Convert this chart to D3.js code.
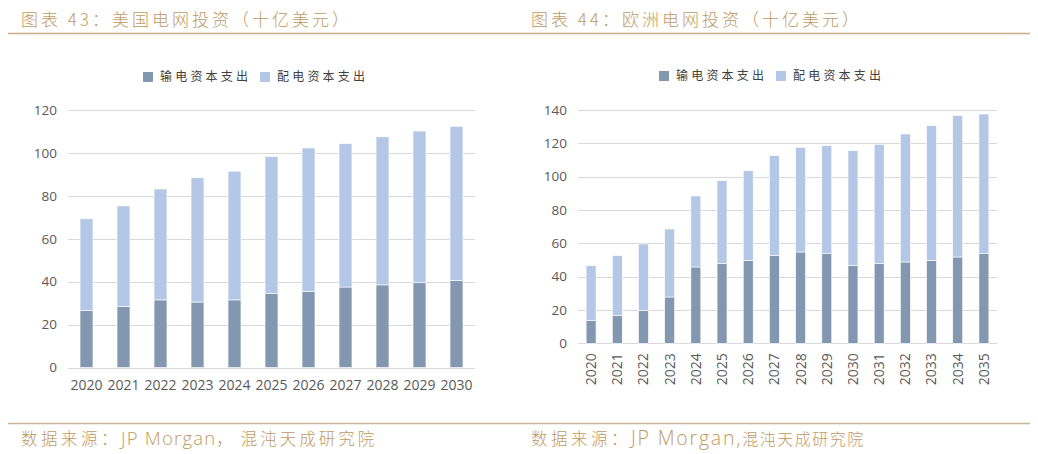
<!DOCTYPE html>
<html>
<head>
<meta charset="utf-8">
<script src="https://cdn.jsdelivr.net/npm/d3@7"></script>
<style>
  html, body { margin: 0; padding: 0; background: #fff; }
  svg { display: block; }
  .title, .source { fill: #C09A63; font-family: "Noto Sans CJK SC", sans-serif; font-weight: 300; }
  .source .latin { font-family: "Open Sans", "Noto Sans", sans-serif; }
  .tick text { fill: #595959; font-family: "Open Sans", "Noto Sans", sans-serif; }
  .legend text { fill: #404040; font-family: "Noto Sans CJK SC", sans-serif; }
</style>
</head>
<body>
<script>
'use strict';

// US grid investment (bn USD)
var usYears = ['2020', '2021', '2022', '2023', '2024', '2025', '2026', '2027', '2028', '2029', '2030'];
var usTrans = [26.5, 28.5, 31.5, 30.5, 31.5, 34.5, 35.5, 37.5, 38.5, 39.5, 40.5];
var usDist = [42.8, 46.8, 51.7, 57.9, 60.0, 63.8, 66.8, 66.8, 69.0, 70.7, 71.9];
var usTicks = [0, 20, 40, 60, 80, 100, 120];

// EU grid investment (bn USD)
var euYears = ['2020', '2021', '2022', '2023', '2024', '2025', '2026', '2027', '2028', '2029', '2030',
    '2031', '2032', '2033', '2034', '2035'];
var euTrans = [13.8, 16.8, 19.8, 27.8, 45.8, 47.8, 49.8, 52.8, 54.8, 53.8, 46.8, 47.8, 48.8, 49.8, 51.8, 53.8];
var euDist = [32.8, 35.8, 39.8, 40.8, 42.6, 49.8, 53.8, 59.8, 62.8, 64.8, 68.8, 71.6, 76.8, 80.8, 84.8, 83.8];
var euTicks = [0, 20, 40, 60, 80, 100, 120, 140];

var seriesNames = ['输电资本支出', '配电资本支出'];
var colors = ['#8497B0', '#B4C7E7'];

var W = 1038, H = 454;
var svg = d3.select('body').append('svg').attr('width', W).attr('height', H);

// header and footer rules
svg.append('line').attr('x1', 8).attr('x2', 1030).attr('y1', 33.5).attr('y2', 33.5)
    .attr('stroke', '#C9AD83').attr('stroke-width', 1.3);
svg.append('line').attr('x1', 8).attr('x2', 1030).attr('y1', 423.5).attr('y2', 423.5)
    .attr('stroke', '#C9B597').attr('stroke-width', 1.3);

svg.append('text').attr('class', 'title').attr('x', 21).attr('y', 26)
    .attr('font-size', 17).attr('letter-spacing', 3).text('图表 43：美国电网投资（十亿美元）');
svg.append('text').attr('class', 'title').attr('x', 531).attr('y', 26)
    .attr('font-size', 17).attr('letter-spacing', 3).text('图表 44：欧洲电网投资（十亿美元）');

// source lines, split so each piece can carry its own spacing
function drawSource(x, parts) {
    var t = svg.append('text').attr('class', 'source').attr('x', x).attr('y', 445);
    parts.forEach(function(p) {
        t.append('tspan')
            .attr('class', p.latin ? 'latin' : null)
            .attr('font-size', p.fs)
            .attr('letter-spacing', p.ls)
            .text(p.text);
    });
}

drawSource(21, [
    { text: '数据来源：', fs: 16.5, ls: 3.5 },
    { text: 'JP Morgan', fs: 18.5, ls: 1.2, latin: true },
    { text: '，', fs: 16.5, ls: 8 },
    { text: '混沌天成研究院', fs: 16.5, ls: 3 }
]);
drawSource(531, [
    { text: '数据来源：', fs: 16.5, ls: 3.5 },
    { text: 'JP Morgan,', fs: 19.5, ls: 1.8, latin: true },
    { text: '混沌天成研究院', fs: 16, ls: 1.5 }
]);

function drawChart(opts) {
    var g = svg.append('g');

    var x = d3.scaleBand()
        .domain(opts.years)
        .range([opts.x0, opts.x1])
        .paddingInner(opts.pad)
        .paddingOuter(opts.pad / 2);

    var y = d3.scaleLinear()
        .domain([0, opts.ticks[opts.ticks.length - 1]])
        .range([opts.y0, opts.y1]);

    // gridlines
    g.append('g')
        .selectAll('line')
        .data(opts.ticks)
        .enter().append('line')
        .attr('x1', opts.x0)
        .attr('x2', opts.x1)
        .attr('y1', function(d) { return Math.round(y(d)) + 0.5; })
        .attr('y2', function(d) { return Math.round(y(d)) + 0.5; })
        .attr('stroke', '#D9D9D9')
        .attr('stroke-width', 1.2);

    // stacked bars
    var rows = opts.years.map(function(yr, i) {
        return { year: yr, trans: opts.trans[i], dist: opts.dist[i] };
    });
    var stacked = d3.stack().keys(['trans', 'dist'])(rows);

    g.append('g')
        .selectAll('g')
        .data(stacked)
        .enter().append('g')
        .attr('fill', function(d, i) { return colors[i]; })
        .selectAll('rect')
        .data(function(d) { return d; })
        .enter().append('rect')
        .attr('x', function(d) { return x(d.data.year); })
        .attr('width', x.bandwidth())
        .attr('y', function(d) { return y(d[1]); })
        .attr('height', function(d) { return y(d[0]) - y(d[1]); })
        .attr('stroke', '#fff')
        .attr('stroke-width', 0.6);

    // y axis labels
    var yAxis = g.append('g')
        .attr('transform', 'translate(' + opts.x0 + ',0)')
        .call(d3.axisLeft(y).tickValues(opts.ticks).tickSize(0).tickPadding(opts.yPad));
    yAxis.select('.domain').remove();
    yAxis.selectAll('text').attr('font-size', opts.yfs);

    // x axis labels
    var xAxis = g.append('g')
        .attr('transform', 'translate(0,' + opts.y0 + ')')
        .call(d3.axisBottom(x).tickSize(0).tickPadding(opts.xPad));
    xAxis.select('.domain').remove();
    xAxis.selectAll('text').attr('font-size', opts.xfs);
    if(opts.rotate) {
        xAxis.selectAll('text')
            .attr('transform', 'rotate(-90)')
            .attr('text-anchor', 'end')
            .attr('dy', '0.35em')
            .attr('x', -opts.xPad)
            .attr('y', 0);
    }

    // legend
    var lg = g.append('g').attr('class', 'legend')
        .attr('transform', 'translate(' + opts.legendX + ',' + opts.legendY + ')');
    var item = lg.selectAll('g')
        .data(seriesNames)
        .enter().append('g')
        .attr('transform', function(d, i) { return 'translate(' + (i * 117) + ',0)'; });
    item.append('rect')
        .attr('width', 10).attr('height', 10).attr('y', -9)
        .attr('fill', function(d, i) { return colors[i]; });
    item.append('text')
        .attr('x', 17).attr('y', 0)
        .attr('font-size', 12).attr('letter-spacing', 3.2)
        .text(function(d) { return d; });
}

drawChart({
    years: usYears, trans: usTrans, dist: usDist, ticks: usTicks,
    x0: 68, x1: 475, y0: 367.5, y1: 110, pad: 0.65,
    xfs: 14, yfs: 13.5, yPad: 11, xPad: 13, rotate: false,
    legendX: 143, legendY: 81
});

drawChart({
    years: euYears, trans: euTrans, dist: euDist, ticks: euTicks,
    x0: 578, x1: 997, y0: 343.3, y1: 110, pad: 0.62,
    xfs: 14, yfs: 13.5, yPad: 11, xPad: 10, rotate: true,
    legendX: 659, legendY: 80
});
</script>
</body>
</html>
